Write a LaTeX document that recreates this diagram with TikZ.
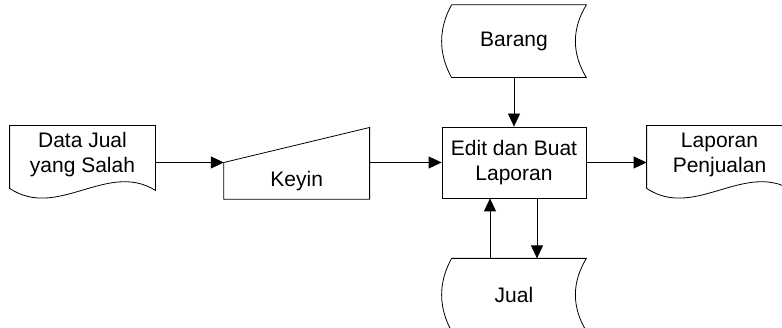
\documentclass[tikz,border=0pt]{standalone}
\usepackage{fontspec}
\setmainfont{Liberation Sans}
\usetikzlibrary{arrows.meta,positioning,calc}

\begin{document}
\begin{tikzpicture}[x=1pt,y=1pt,>={Triangle[length=13pt,width=12pt]},line width=0.8pt,
  font=\fontsize{21}{25}\selectfont,
  docnode/.style={inner sep=0pt,minimum width=145pt,minimum height=57pt,align=center},
  inputnode/.style={inner sep=0pt,minimum width=145pt,minimum height=36pt},
  procnode/.style={draw,inner sep=0pt,minimum width=144pt,minimum height=71pt,align=center},
  storenode/.style={inner sep=0pt,minimum width=144pt,minimum height=72pt}]
\useasboundingbox (0,0) rectangle (782,328);
\clip (0,0) rectangle (782,328);

\node[procnode] (proc) at (514,165.5) {Edit dan Buat\\Laporan};
\node[inputnode,anchor=north east] (keyin) at ([xshift=-72pt]proc.west) {Keyin};
\node[docnode] (data) at (82.5,173.5) {Data Jual\\yang Salah};
\node[docnode] (lap) at (719.5,173.5) {Laporan\\Penjualan};
\node[storenode,above=49pt of proc] (barang) {Barang};
\node[storenode,below=60pt of proc] (jual) {Jual};

% dokumen
\draw (data.north west) -- (data.north east) -- ([yshift=-7pt]data.south east)
  .. controls +(-48,30) and +(48,-32) .. ([yshift=-5pt]data.south west) -- cycle;
\draw (lap.north west) -- (lap.north east) -- ([yshift=-7pt]lap.south east)
  .. controls +(-48,30) and +(48,-32) .. ([yshift=-5pt]lap.south west) -- cycle;

% input manual
\draw (keyin.south west) -- (keyin.south east) -- ([yshift=35pt]keyin.north east)
  -- (keyin.north west) -- cycle;

% data tersimpan
\draw ([xshift=10pt]barang.north west) -- (barang.north east)
  .. controls +(-14.7,-24) and +(-14.7,24) .. (barang.south east)
  -- ([xshift=10pt]barang.south west)
  .. controls +(-13.3,24) and +(-13.3,-24) .. ([xshift=10pt]barang.north west);
\draw ([xshift=10pt]jual.north west) -- (jual.north east)
  .. controls +(-14.7,-24) and +(-14.7,24) .. (jual.south east)
  -- ([xshift=10pt]jual.south west)
  .. controls +(-13.3,24) and +(-13.3,-24) .. ([xshift=10pt]jual.north west);

% aliran
\draw[->] (data.east |- keyin.north west) -- (keyin.north west);
\draw[->] (keyin.north east) -- (keyin.north east -| proc.west);
\draw[->] (proc.east) -- (proc.east -| lap.west);
\draw[->] (barang.south) -- (proc.north);
\draw[->] ([xshift=-24pt]jual.north) -- ([xshift=-24pt]proc.south);
\draw[->] ([xshift=23pt]proc.south) -- ([xshift=23pt]jual.north);

\end{tikzpicture}
\end{document}
